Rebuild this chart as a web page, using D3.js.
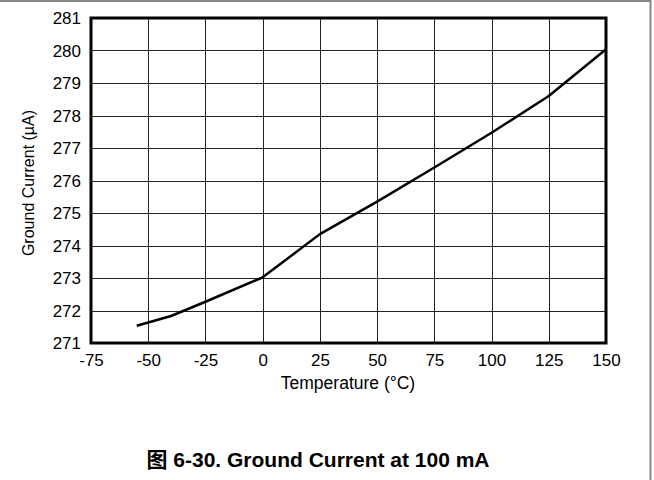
<!DOCTYPE html>
<html><head><meta charset="utf-8">
<script src="https://cdn.jsdelivr.net/npm/d3@7"></script>
<style>body{margin:0;background:#fff;} svg{display:block;}</style>
</head><body>
<script>
const temperature = [-55, -40, -25, 0, 25, 50, 75, 100, 125, 150];
const groundCurrent = [271.53, 271.83, 272.27, 273.02, 274.35, 275.35, 276.4, 277.47, 278.6, 280.04];
const xTicks = [-75, -50, -25, 0, 25, 50, 75, 100, 125, 150];
const yTicks = [271, 272, 273, 274, 275, 276, 277, 278, 279, 280, 281];
const xLabel = "Temperature (°C)";
const yLabel = "Ground Current (µA)";
const title = "图 6-30. Ground Current at 100 mA";

const W = 654, H = 480;
const m = {left: 91, right: 606, top: 18, bottom: 343};
const svg = d3.select("body").append("svg").attr("width", W).attr("height", H);
const font = "Arial, 'Liberation Sans', sans-serif";

// outer frame
svg.append("line").attr("x1", 0).attr("x2", 650.5).attr("y1", 1).attr("y2", 1).attr("stroke", "#888").attr("stroke-width", 2);
svg.append("line").attr("x1", 650.5).attr("x2", 650.5).attr("y1", 0).attr("y2", H).attr("stroke", "#888").attr("stroke-width", 2);

const x = d3.scaleLinear().domain([-75, 150]).range([m.left, m.right]);
const y = d3.scaleLinear().domain([271, 281]).range([m.bottom, m.top]);

// grid
const g = svg.append("g");
g.selectAll(".vg").data(xTicks).join("line")
  .attr("x1", d => Math.round(x(d)) + 0.5).attr("x2", d => Math.round(x(d)) + 0.5)
  .attr("y1", m.top).attr("y2", m.bottom).attr("stroke", "#222").attr("stroke-width", 1);
g.selectAll(".hg").data(yTicks).join("line")
  .attr("y1", d => Math.round(y(d)) + 0.5).attr("y2", d => Math.round(y(d)) + 0.5)
  .attr("x1", m.left).attr("x2", m.right).attr("stroke", "#222").attr("stroke-width", 1);

// axes (labels only)
const xAxis = svg.append("g").attr("transform", `translate(0,${m.bottom + 6})`)
  .call(d3.axisBottom(x).tickValues(xTicks).tickSize(0).tickFormat(d => String(d)));
xAxis.select(".domain").remove();
xAxis.selectAll("text").attr("font-family", font).attr("font-size", 17).attr("fill", "#000").attr("dy", "0.8em");

const yAxis = svg.append("g").attr("transform", `translate(${m.left - 10},0)`)
  .call(d3.axisLeft(y).tickValues(yTicks).tickSize(0).tickFormat(d => String(d)));
yAxis.select(".domain").remove();
yAxis.selectAll("text").attr("font-family", font).attr("font-size", 17).attr("fill", "#000").attr("dy", "0.35em").attr("x", 0);

// frame
svg.append("rect").attr("x", m.left).attr("y", m.top).attr("width", m.right - m.left).attr("height", m.bottom - m.top)
  .attr("fill", "none").attr("stroke", "#000").attr("stroke-width", 3);

// line
const data = temperature.map((t, i) => [t, groundCurrent[i]]);
svg.append("path").datum(data)
  .attr("d", d3.line().x(d => x(d[0])).y(d => y(d[1])))
  .attr("fill", "none").attr("stroke", "#000").attr("stroke-width", 2.5).attr("stroke-linejoin", "round");

// labels
svg.append("text").attr("x", 348).attr("y", 389).attr("text-anchor", "middle")
  .attr("font-family", font).attr("font-size", 17.5).text(xLabel);
svg.append("text").attr("transform", `translate(34,${183}) rotate(-90)`).attr("text-anchor", "middle")
  .attr("font-family", font).attr("font-size", 16).text(yLabel);
svg.append("text").attr("x", 318).attr("y", 467).attr("text-anchor", "middle")
  .attr("font-family", "Arial, 'Liberation Sans', 'Noto Sans CJK SC', sans-serif").attr("font-weight", "bold").attr("font-size", 21).text(title);
</script>
</body></html>
